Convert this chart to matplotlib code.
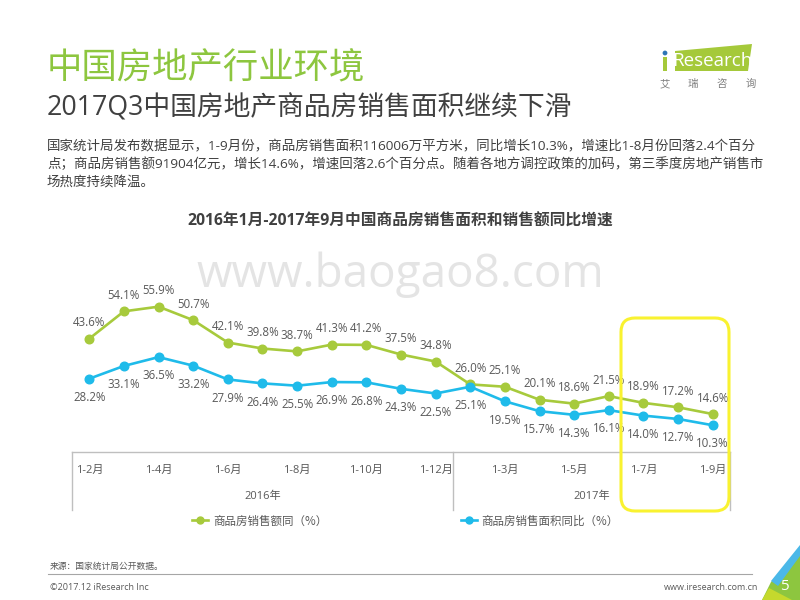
import matplotlib
matplotlib.use("Agg")
import matplotlib.pyplot as plt
from matplotlib.lines import Line2D
from matplotlib.patches import FancyBboxPatch, Polygon, Circle, Rectangle

plt.rcParams['font.family'] = ['Open Sans', 'Noto Sans CJK SC', 'DejaVu Sans']

# ---------------- data ----------------
months_2016 = ["1-2月", "1-3月", "1-4月", "1-5月", "1-6月", "1-7月", "1-8月",
               "1-9月", "1-10月", "1-11月", "1-12月"]
months_2017 = ["1-2月", "1-3月", "1-4月", "1-5月", "1-6月", "1-7月", "1-8月", "1-9月"]
categories = months_2016 + months_2017
years = ["2016年", "2017年"]

sales_amount = [43.6, 54.1, 55.9, 50.7, 42.1, 39.8, 38.7, 41.3, 41.2, 37.5, 34.8,
                26.0, 25.1, 20.1, 18.6, 21.5, 18.9, 17.2, 14.6]
sales_area = [28.2, 33.1, 36.5, 33.2, 27.9, 26.4, 25.5, 26.9, 26.8, 24.3, 22.5,
              25.1, 19.5, 15.7, 14.3, 16.1, 14.0, 12.7, 10.3]
series_names = ["商品房销售额同（%）", "商品房销售面积同比（%）"]

GREEN = '#A7CA3C'
BLUE = '#1FBBEA'
LABEL = '#595959'

fig = plt.figure(figsize=(8, 6), dpi=100)

# overlay in pixel coords
ov = fig.add_axes([0, 0, 1, 1], zorder=0)
ov.set_xlim(0, 800)
ov.set_ylim(600, 0)
ov.axis('off')

# watermark
ov.text(400, 287, "www.baogao8.com", fontsize=33, color='#E4E4E4', ha='center',
        va='baseline', family=['Open Sans'])

# ---------------- chart ----------------
ax = fig.add_axes([72 / 800, 1 - 452 / 600, 658 / 800, 182 / 600], zorder=2)
ax.patch.set_alpha(0)
x = list(range(len(categories)))
ax.plot(x, sales_amount, color=GREEN, lw=1.9, marker='o', ms=6.2, zorder=3)
ax.plot(x, sales_area, color=BLUE, lw=1.9, marker='o', ms=6.2, zorder=3)
for xi, v in zip(x, sales_amount):
    ax.annotate(f"{v:.1f}%", (xi, v), xytext=(0, 11.5), textcoords='offset points',
                ha='center', va='center', fontsize=8.3, color=LABEL)
for xi, v in zip(x, sales_area):
    ax.annotate(f"{v:.1f}%", (xi, v), xytext=(0, -13.5), textcoords='offset points',
                ha='center', va='center', fontsize=8.3, color=LABEL)

ax.set_xlim(-0.5, len(categories) - 0.5)
ax.set_ylim(0, 70)
ax.set_yticks([])
for s in ['top', 'right', 'left']:
    ax.spines[s].set_visible(False)
ax.spines['bottom'].set_color('#BFBFBF')
ax.spines['bottom'].set_linewidth(1.0)
ax.set_xticks(x)
ax.set_xticklabels([c if i % 2 == 0 else "" for i, c in enumerate(categories)],
                   fontsize=8, color=LABEL)
ax.tick_params(axis='x', length=0, pad=9)

# multi-level category separators
tr = ax.get_xaxis_transform()
n16 = len(months_2016)
sep = [-0.5, n16 - 0.5, len(categories) - 0.5]
for sx in sep:
    ax.plot([sx, sx], [0, -58 / 182], transform=tr, color='#BFBFBF', lw=1.0,
            clip_on=False)
ax.text((sep[0] + sep[1]) / 2, -45 / 182, years[0], transform=tr, ha='center',
        va='center', fontsize=8, color=LABEL)
ax.text((sep[1] + sep[2]) / 2, -45 / 182, years[1], transform=tr, ha='center',
        va='center', fontsize=8, color=LABEL)

handles = [Line2D([0], [0], color=GREEN, lw=1.9, marker='o', ms=5),
           Line2D([0], [0], color=BLUE, lw=1.9, marker='o', ms=5)]
ax.legend(handles, series_names, ncol=2, loc='center',
          bbox_to_anchor=(0.507, -69 / 182), frameon=False,
          labelcolor=LABEL, columnspacing=11.6, handlelength=1.35,
          handletextpad=0.45, prop={'family': ['Noto Sans CJK SC'], 'size': 8.3})

# ---------------- top overlay (texts, box, logo) ----------------
top = fig.add_axes([0, 0, 1, 1], zorder=5)
top.set_xlim(0, 800)
top.set_ylim(600, 0)
top.axis('off')
top.patch.set_alpha(0)

CJK = ['Noto Sans CJK SC', 'DejaVu Sans']
top.text(47, 68, "中国房地产行业环境", fontsize=25.5, color='#8DC63F', va='center',
         ha='left', family=CJK)
top.text(47, 108, "2017Q3中国房地产商品房销售面积继续下滑", fontsize=19.3,
         color='#404040', va='center', ha='left', family=['Open Sans', 'Noto Sans CJK SC'])
para = ["国家统计局发布数据显示，1-9月份，商品房销售面积116006万平方米，同比增长10.3%，增速比1-8月份回落2.4个百分",
        "点；商品房销售额91904亿元，增长14.6%，增速回落2.6个百分点。随着各地方调控政策的加码，第三季度房地产销售市",
        "场热度持续降温。"]
for i, line in enumerate(para):
    top.text(47, 146 + i * 18.5, line, fontsize=9.7, color='#404040', va='center',
             ha='left', family=['Open Sans', 'Noto Sans CJK SC'])
top.text(400, 222, "2016年1月-2017年9月中国商品房销售面积和销售额同比增速",
         fontsize=11.3, fontweight='bold', color='#404040', ha='center', va='center',
         family=['Open Sans', 'Noto Sans CJK SC'])

# yellow highlight box
top.add_patch(FancyBboxPatch((621, 318), 108, 193,
                             boxstyle="round,pad=0,rounding_size=14",
                             fill=False, ec='#F9F230', lw=2.2))

# logo
top.add_patch(Polygon([(675, 51), (752, 44), (748, 71), (675, 71)], closed=True,
                      fc='#A5C93A', ec='none'))
top.add_patch(Circle((665, 53), 2.4, fc='#2E75B6', ec='none'))
top.add_patch(Rectangle((663, 57), 4, 14, fc='#A5C93A', ec='none'))
top.text(712, 61, "Research", fontsize=13.5, color='white', ha='center', va='center',
         family=['Open Sans'])
for cx, ch in zip([665, 693, 722, 751], "艾瑞咨询"):
    top.text(cx, 84, ch, fontsize=7.5, color='#7F7F7F', ha='center', va='center',
             family=CJK)

# footer
top.text(50, 566, "来源：国家统计局公开数据。", fontsize=6.3, color='#595959', ha='left',
         va='center', family=CJK)
top.plot([48, 752], [574, 574], color='#A6A6A6', lw=0.8)
top.text(50, 587, "©2017.12 iResearch Inc", fontsize=6.5, color='#595959', ha='left',
         va='center', family=['Open Sans'])
top.text(758, 587, "www.iresearch.com.cn", fontsize=6.5, color='#595959', ha='right',
         va='center', family=['Open Sans'])

# corner decoration
top.add_patch(Polygon([(762, 600), (771, 582), (800, 548), (800, 600)], fc='#8DC63F',
                      ec='none'))
top.add_patch(Polygon([(762, 600), (769, 588), (792, 600)], fc='#C5D92D', ec='none'))
top.add_patch(Polygon([(771, 581), (800, 545), (800, 556), (778, 586)], fc='#4BB8E8',
                      ec='none'))
top.text(784, 586, "5", fontsize=11, color='white', ha='center', va='center',
         family=['Open Sans'])

fig.savefig("out.png", dpi=100)
